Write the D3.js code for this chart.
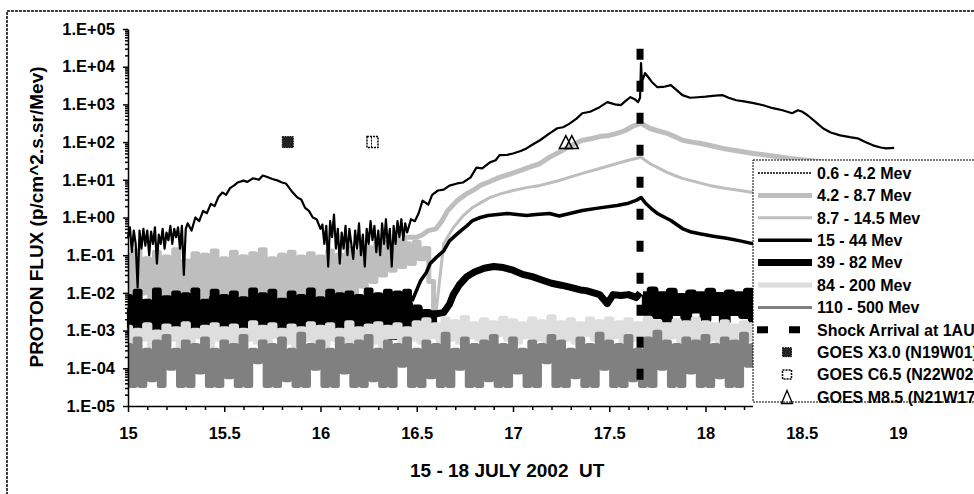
<!DOCTYPE html>
<html>
<head>
<meta charset="utf-8">
<script src="https://cdn.jsdelivr.net/npm/d3@7"></script>
<style>
  body { margin: 0; background: #fff; }
  text { font-family: "Liberation Sans", Arial, sans-serif; font-weight: bold; fill: #000; }
</style>
</head>
<body>
<svg id="chart" width="974" height="494"></svg>
<script>
// ---- data ----
var yTickValues = [1e-5, 1e-4, 1e-3, 1e-2, 1e-1, 1e0, 1e1, 1e2, 1e3, 1e4, 1e5];
var yTickLabels = ["1.E-05", "1.E-04", "1.E-03", "1.E-02", "1.E-01", "1.E+00", "1.E+01", "1.E+02", "1.E+03", "1.E+04", "1.E+05"];
var xTickValues = [15, 15.5, 16, 16.5, 17, 17.5, 18, 18.5, 19];
var xTickLabels = ["15", "15.5", "16", "16.5", "17", "17.5", "18", "18.5", "19"];

var seriesNames = ["0.6 - 4.2 Mev", "4.2 - 8.7 Mev", "8.7 - 14.5 Mev", "15 - 44 Mev", "39 - 82 Mev", "84 - 200 Mev", "110 - 500 Mev"];

// noisy stretches are sampled every 0.025 day (peak, dip, peak, dip ...)
var gridStep = 0.025;

var flux110_500 = [
  4e-4,3.5e-5,6e-4,3.5e-5,3e-4,5e-5,5e-4,3.5e-5,7e-4,1e-4,3e-4,3.5e-5,5e-4,3.5e-5,4e-4,8e-5,6e-4,3.5e-5,3e-4,3.5e-5,
  5e-4,6e-5,4e-4,3.5e-5,7e-4,3.5e-5,3e-4,1.5e-4,5e-4,3.5e-5,4e-4,3.5e-5,6e-4,5e-5,3e-4,3.5e-5,8e-4,3.5e-5,4e-4,1e-4,
  5e-4,3.5e-5,3e-4,3.5e-5,6e-4,8e-5,4e-4,3.5e-5,5e-4,3.5e-5,7e-4,5e-5,3e-4,3.5e-5,5e-4,3.5e-5,4e-4,1.2e-4,6e-4,3.5e-5,
  3e-4,3.5e-5,5e-4,6e-5,4e-4,3.5e-5,8e-4,3.5e-5,3e-4,1e-4,6e-4,3.5e-5,4e-4,3.5e-5,5e-4,5e-5,7e-4,3.5e-5,4e-4,3.5e-5,
  6e-4,8e-5,3e-4,3.5e-5,5e-4,3.5e-5,4e-4,1.5e-4,7e-4,3.5e-5,5e-4,3.5e-5,3e-4,6e-5,6e-4,3.5e-5,4e-4,3.5e-5,8e-4,1e-4,
  5e-4,3.5e-5,4e-4,3.5e-5,7e-4,5e-5,3e-4,3.5e-5,6e-4,3.5e-5,9e-4,1e-4,5e-4,3.5e-5,4e-4,3.5e-5,6e-4,8e-5,5e-4,3.5e-5,
  7e-4,3.5e-5,4e-4,6e-5,6e-4,3.5e-5,5e-4,3.5e-5,8e-4,1.2e-4,4e-4,3.5e-5,6e-4,3.5e-5,5e-4,5e-5,7e-4,3.5e-5,4e-4,3.5e-5,5e-4
];

var flux84_200 = [
  1.2e-3,5e-4,1e-3,6e-4,1.4e-3,4e-4,9e-4,5e-4,1.3e-3,6e-4,1.1e-3,4e-4,1.5e-3,5e-4,1e-3,7e-4,1.2e-3,4e-4,1.4e-3,6e-4,
  1.1e-3,5e-4,1.3e-3,4e-4,1e-3,6e-4,1.6e-3,5e-4,1.2e-3,4e-4,1.4e-3,7e-4,1e-3,5e-4,1.3e-3,4e-4,1.1e-3,6e-4,1.5e-3,5e-4,
  1.2e-3,4e-4,1.4e-3,6e-4,1e-3,5e-4,1.6e-3,4e-4,1.1e-3,6e-4,1.3e-3,5e-4,1.5e-3,4e-4,1.2e-3,7e-4,1.4e-3,5e-4,1.1e-3,6e-4,
  1.6e-3,5e-4,1.9e-3,7e-4,1.4e-3,5e-4,2e-3,6e-4,1.7e-3,5e-4,2.2e-3,7e-4,1.5e-3,6e-4,1.9e-3,5e-4,1.6e-3,8e-4,2.1e-3,6e-4,
  1.8e-3,5e-4,1.5e-3,7e-4,2e-3,6e-4,1.7e-3,5e-4,2.3e-3,7e-4,1.6e-3,6e-4,1.9e-3,5e-4,1.5e-3,8e-4,2e-3,6e-4,1.7e-3,5e-4,
  2e-3,7e-4,1.6e-3,5e-4,1.9e-3,6e-4,1.5e-3,7e-4,2.1e-3,5e-4,1.7e-3,6e-4,1.4e-3,7e-4,1.8e-3,5e-4,1.6e-3,6e-4,2e-3,5e-4,
  1.6e-3,6e-4,1.4e-3,5e-4,1.7e-3,7e-4,1.3e-3,5e-4,1.6e-3,6e-4,1.4e-3,5e-4,1.8e-3,6e-4,1.3e-3,7e-4,1.5e-3,5e-4,1.4e-3,6e-4,1.5e-3
];

var flux4_8Noise = [
  0.1,0.015,0.13,0.02,0.08,0.01,0.12,0.03,0.09,0.008,0.14,0.02,0.07,0.012,0.11,0.025,0.1,0.01,0.13,0.02,
  0.08,0.015,0.12,0.03,0.09,0.01,0.11,0.02,0.14,0.012,0.08,0.025,0.1,0.01,0.12,0.02,0.09,0.015,0.11,0.03,
  0.08,0.012,0.13,0.025,0.1,0.02,0.15,0.03,0.12,0.04,0.16,0.05,0.2,0.06,0.22,0.08,0.25,0.1,0.3
];
var flux4_8 = [
  [16.5,0.3],[16.53,0.35],[16.56,0.45],[16.6,0.5],[16.63,0.8],[16.66,1.5],[16.71,2.8],[16.76,4.3],[16.8,5.5],
  [16.83,7.1],[16.88,9],[16.93,11.6],[16.98,14],[17.04,17.8],[17.09,22],[17.14,27],[17.19,40],[17.24,54],[17.3,80],
  [17.36,112],[17.41,125],[17.45,140],[17.5,150],[17.54,171],[17.58,200],[17.62,260],[17.665,316],[17.71,233],[17.75,200],
  [17.8,171],[17.84,140],[17.88,112],[17.93,100],[17.97,93],[18.03,80],[18.09,68],[18.17,58],[18.25,50],[18.35,43],
  [18.44,37],[18.6,30],[18.8,22],[19.0,18]
];

var flux8_14Noise = [
  0.06,0.006,0.08,0.01,0.05,0.005,0.09,0.008,0.06,0.004,0.07,0.01,0.05,0.006,0.08,0.005,0.1,0.008,0.06,0.005,
  0.07,0.01,0.05,0.004,0.09,0.006,0.06,0.01,0.08,0.005,0.07,0.008,0.1,0.006,0.05,0.01,0.08,0.005,0.06,0.008,
  0.09,0.006,0.07,0.01,0.1,0.008,0.12,0.01,0.1,0.015,0.14,0.02,0.12,0.03,0.16,0.04,0.18,0.05,0.2,0.06,
  0.22,0.08,0.15,0.02,0.003
];
var flux8_14 = [
  [16.64,0.2],[16.69,0.54],[16.74,1.1],[16.79,1.85],[16.84,2.6],[16.88,3.4],[16.94,4.3],[17.0,5.2],[17.07,6.2],[17.14,7.1],
  [17.19,8.2],[17.24,9.6],[17.3,12],[17.36,14.8],[17.45,20],[17.54,27],[17.6,33],[17.665,39.5],[17.71,27],[17.76,20],
  [17.8,15.7],[17.84,13],[17.88,10.9],[17.95,8.8],[18.02,7.1],[18.1,6],[18.18,5.2],[18.25,4.6],[18.4,3.8],[18.6,3],
  [18.8,2.4],[19.0,2]
];

var flux15_44Noise = [
  0.008,0.002,0.011,0.003,0.006,0.0015,0.012,0.0025,0.007,0.002,0.01,0.003,0.009,0.0018,0.012,0.0025,0.006,0.002,0.011,0.003,
  0.008,0.0015,0.01,0.0025,0.007,0.002,0.012,0.003,0.009,0.0018,0.011,0.0025,0.006,0.002,0.01,0.003,0.008,0.0015,0.012,0.0025,
  0.007,0.002,0.011,0.003,0.009,0.002,0.01,0.0025,0.008,0.003,0.012,0.002,0.009,0.003,0.011,0.0035,0.01,0.004,0.011,0.006
];
var flux15_44 = [
  [16.5,0.012],[16.52,0.021],[16.55,0.035],[16.57,0.06],[16.6,0.086],[16.64,0.13],[16.67,0.24],[16.7,0.33],[16.73,0.45],[16.76,0.6],
  [16.79,0.83],[16.83,1.0],[16.87,1.13],[16.92,1.2],[16.97,1.28],[17.02,1.2],[17.07,1.13],[17.12,1.2],[17.19,1.28],[17.24,1.1],
  [17.3,1.3],[17.36,1.53],[17.45,1.8],[17.54,2.08],[17.6,2.4],[17.64,2.83],[17.665,3.4],[17.69,2.35],[17.72,1.7],[17.75,1.28],
  [17.79,1.0],[17.82,0.83],[17.85,0.65],[17.88,0.51],[17.92,0.42],[17.97,0.37],[18.04,0.32],[18.11,0.28],[18.18,0.24],[18.25,0.2],
  [18.4,0.17],[18.6,0.13],[18.8,0.1],[19.0,0.09]
];

var flux39_82Noise = [
  0.004,0.0009,0.006,0.0012,0.003,0.0008,0.005,0.001,0.007,0.0009,0.004,0.0011,0.006,0.0008,0.003,0.001,0.005,0.0007,0.007,0.0011,
  0.004,0.0009,0.006,0.0012,0.003,0.0008,0.005,0.001,0.007,0.0009,0.004,0.0008,0.006,0.0012,0.003,0.001,0.005,0.0007,0.004,0.0009,
  0.006,0.0011,0.003,0.0008,0.005,0.001,0.007,0.0009,0.004,0.0012,0.006,0.0008,0.004,0.001,0.005,0.0007,0.003,0.0009,0.005,0.0011,
  0.004,0.0012,0.003,0.0015,0.0028
];
var flux39_82 = [
  [16.64,0.003],[16.67,0.005],[16.69,0.009],[16.72,0.016],[16.76,0.027],[16.8,0.036],[16.85,0.045],[16.9,0.05],[16.95,0.047],[17.0,0.04],
  [17.05,0.031],[17.1,0.027],[17.15,0.022],[17.2,0.018],[17.25,0.016],[17.3,0.014],[17.35,0.012],[17.38,0.0115],[17.42,0.01],[17.45,0.009],
  [17.49,0.0052],[17.52,0.009],[17.56,0.0085],[17.6,0.009],[17.64,0.0075],[17.66,0.01]
];
var flux39_82Tail = [  // after the shock, from day 17.675
  0.009,0.003,0.012,0.0025,0.009,0.002,0.011,0.003,0.008,0.0022,0.01,0.0035,0.009,0.002,0.011,0.003,0.0085,0.0018,0.01,0.003,
  0.009,0.0025,0.011,0.002,0.008,0.003,0.01,0.0022,0.009,0.003,0.0085,0.0025,0.009,0.004
];

var flux06_42 = [
  [15.00,0.3],[15.01,0.55],[15.02,0.12],[15.03,0.45],[15.04,0.2],[15.05,0.014],[15.06,0.45],[15.07,0.15],[15.08,0.5],[15.09,0.18],
  [15.10,0.45],[15.11,0.1],[15.12,0.42],[15.13,0.2],[15.14,0.55],[15.15,0.06],[15.16,0.35],[15.17,0.2],[15.18,0.5],[15.19,0.15],
  [15.20,0.4],[15.21,0.25],[15.22,0.6],[15.23,0.2],[15.24,0.5],[15.25,0.3],[15.26,0.55],[15.27,0.15],[15.28,0.6],[15.29,0.03],
  [15.30,0.5],[15.31,0.7],[15.33,0.45],[15.35,1.0],[15.37,0.8],[15.39,1.5],[15.41,1.3],[15.43,2.3],[15.45,2.0],[15.47,3.5],
  [15.49,4.6],[15.51,4.0],[15.53,6.0],[15.55,7.0],[15.57,8.5],[15.60,9.5],[15.62,8.8],[15.65,11],[15.68,10],[15.70,13],
  [15.72,12],[15.75,10.5],[15.78,9.5],[15.80,8.5],[15.82,8],[15.85,5],[15.88,3.4],[15.90,3.0],[15.92,1.8],[15.94,1.5],
  [15.96,1.0],[15.98,0.9],[16.00,0.5],[16.01,0.65],
  [16.02,0.2],[16.03,0.6],[16.04,0.05],[16.05,0.8],[16.06,0.3],[16.07,1.2],[16.08,0.15],[16.09,0.5],[16.10,0.06],[16.11,0.4],
  [16.12,0.15],[16.13,0.6],[16.14,0.1],[16.15,0.5],[16.16,0.2],[16.17,0.08],[16.18,0.45],[16.19,0.15],[16.20,0.7],[16.21,0.1],
  [16.22,0.35],[16.23,0.05],[16.24,0.5],[16.25,0.2],[16.26,0.8],[16.27,0.25],[16.28,0.6],[16.29,0.12],[16.30,0.45],[16.31,0.1],
  [16.32,0.7],[16.33,0.2],[16.34,0.9],[16.35,0.15],[16.36,0.5],[16.37,0.05],[16.38,0.6],[16.39,0.2],[16.40,0.8],[16.41,0.3],
  [16.42,0.9],[16.43,0.25],[16.44,0.7],[16.45,0.4],[16.47,0.9],[16.49,0.8],
  [16.51,1.3],[16.53,2.8],[16.56,2.2],[16.58,4.0],[16.61,5.2],[16.64,5.5],[16.67,7],[16.71,8],[16.74,8.5],[16.78,11.6],
  [16.81,21],[16.84,20],[16.88,29],[16.91,33],[16.93,45],[16.97,46],[17.00,50],[17.04,58],[17.07,68],[17.10,85],
  [17.14,112],[17.19,171],[17.23,233],[17.26,248],[17.29,300],[17.33,420],[17.36,584],[17.40,640],[17.45,843],[17.49,1146],
  [17.53,1000],[17.56,953],[17.59,1300],[17.61,1550],[17.63,1400],[17.65,1146],[17.66,1500],[17.665,12500],[17.67,4000],[17.686,6760],
  [17.70,5500],[17.72,4000],[17.75,2860],[17.78,2900],[17.82,3240],[17.85,2400],[17.88,1760],[17.92,1500],[17.96,1550],[18.00,1600],
  [18.05,1700],[18.09,1760],[18.12,1500],[18.16,1290],[18.20,1200],[18.25,1076],[18.30,950],[18.35,793],[18.40,700],[18.45,584],
  [18.48,701],[18.50,650],[18.53,516],[18.57,350],[18.61,233],[18.65,180],[18.70,151],[18.75,135],[18.79,126],[18.83,100],
  [18.87,82],[18.91,72],[18.94,68],[18.98,70]
];

// shock arrival and flares
var shockDay = 17.66;
var shockRange = [3e-5, 3e4];
var shockName = "Shock Arrival at 1AU";
var flareNames = ["GOES X3.0 (N19W01)", "GOES C6.5 (N22W02)", "GOES M8.5 (N21W17)"];
var flareDays = [15.83, 16.27, 17.29];
var flareFlux = [100, 100, 100];

// ---- build ----
function noisePart(start, vals, w) {
  return { curve: d3.curveStep, width: w, pts: vals.map(function (v, i) { return [start + i * gridStep, v]; }) };
}
function linePart(pts, prev) {
  // join onto the end of the previous noisy stretch
  var p = prev ? [prev.pts[prev.pts.length - 1]].concat(pts) : pts;
  return { curve: d3.curveLinear, pts: p };
}
function noisyThenSmooth(noise, smooth, w) {
  var a = noisePart(15, noise, w);
  return [a, linePart(smooth, a)];
}

var series = [
  { color: "#000", width: 2.2, legendWidth: 1.5, legendDash: "2,1", parts: [linePart(flux06_42)] },
  { color: "#bebebe", width: 5, parts: noisyThenSmooth(flux4_8Noise, flux4_8, 5) },
  { color: "#bebebe", width: 3, parts: noisyThenSmooth(flux8_14Noise, flux8_14, 5) },
  { color: "#000", width: 3.5, parts: noisyThenSmooth(flux15_44Noise, flux15_44, 5) },
  { color: "#000", width: 7, parts: noisyThenSmooth(flux39_82Noise, flux39_82, 7).concat([noisePart(17.675, flux39_82Tail, 7)]) },
  { color: "#dedede", width: 5, parts: [noisePart(15, flux84_200, 5.5)] },
  { color: "#808080", width: 3, parts: [noisePart(15, flux110_500, 5)] }
];
series.forEach(function (s, i) { s.name = seriesNames[i]; });

var svg = d3.select("#chart");

var x = d3.scaleLinear().domain([15, 19]).range([128, 898]);
var y = d3.scaleLog().domain([1e-5, 1e5]).range([406, 29]);

// outer frame
svg.append("rect")
  .attr("x", 7).attr("y", 11).attr("width", 1000).attr("height", 500)
  .attr("fill", "none").attr("stroke", "#000").attr("stroke-width", 1.5)
  .attr("stroke-dasharray", "3,1");

// lines (Excel order, first series drawn last so its trace stays visible)
var drawOrder = [1, 2, 3, 4, 5, 6, 0];
var gLines = svg.append("g");
drawOrder.forEach(function (i) {
  var s = series[i];
  s.parts.forEach(function (p) {
    var line = d3.line().curve(p.curve)
      .x(function (d) { return x(d[0]); })
      .y(function (d) { return y(d[1]); });
    gLines.append("path")
      .attr("d", line(p.pts))
      .attr("fill", "none")
      .attr("stroke", s.color)
      .attr("stroke-width", p.width || s.width)
      .attr("stroke-linejoin", "round");
  });
});

// shock line
svg.append("line")
  .attr("x1", x(shockDay)).attr("x2", x(shockDay))
  .attr("y1", y(shockRange[1])).attr("y2", y(shockRange[0]))
  .attr("stroke", "#000").attr("stroke-width", 7).attr("stroke-dasharray", "11,21");

// flare markers
function triPath(cx, cy, w, h) {
  return "M" + (cx - w / 2) + "," + (cy + h / 2) + "L" + cx + "," + (cy - h / 2) + "L" + (cx + w / 2) + "," + (cy + h / 2) + "Z";
}
function drawFlare(g, k, cx, cy, big) {
  var sz = big ? 11 : 9;
  if (k === 0) {
    g.append("rect").attr("x", cx - sz / 2).attr("y", cy - sz / 2).attr("width", sz).attr("height", sz)
      .attr("fill", "#222").attr("stroke", "#000").attr("stroke-width", 1).attr("stroke-dasharray", "1.5,1");
  } else if (k === 1) {
    g.append("rect").attr("x", cx - sz / 2).attr("y", cy - sz / 2).attr("width", sz).attr("height", sz)
      .attr("fill", "#fff").attr("stroke", "#000").attr("stroke-width", 1.5).attr("stroke-dasharray", "2,1");
    if (big) g.append("line").attr("x1", cx - 1).attr("x2", cx - 1).attr("y1", cy - sz / 2).attr("y2", cy + sz / 2)
      .attr("stroke", "#000").attr("stroke-width", 1).attr("stroke-dasharray", "2,1");
  } else {
    if (big) {
      g.append("path").attr("d", triPath(cx - 3, cy, 13, 13)).attr("fill", "none").attr("stroke", "#000").attr("stroke-width", 1.5);
      g.append("path").attr("d", triPath(cx + 3, cy, 13, 13)).attr("fill", "none").attr("stroke", "#000").attr("stroke-width", 1.5);
    } else {
      g.append("path").attr("d", triPath(cx, cy, 11, 13)).attr("fill", "none").attr("stroke", "#000").attr("stroke-width", 1.3);
    }
  }
}
var gFlares = svg.append("g");
flareDays.forEach(function (d, k) { drawFlare(gFlares, k, x(d), y(flareFlux[k]), true); });

// y axis
var yMinor = [];
for (var e = -5; e < 5; e++) for (var m = 2; m <= 9; m++) yMinor.push(m * Math.pow(10, e));

var gy = svg.append("g").attr("transform", "translate(128,0)")
  .call(d3.axisLeft(y).tickValues(yTickValues)
    .tickFormat(function (d, i) { return yTickLabels[i]; })
    .tickSize(5).tickSizeOuter(0).tickPadding(8));
svg.append("g").attr("transform", "translate(128,0)")
  .call(d3.axisLeft(y).tickValues(yMinor).tickFormat("").tickSize(3).tickSizeOuter(0))
  .select(".domain").remove();

// x axis
var xMinor = d3.range(150, 191).map(function (v) { return v / 10; })
  .filter(function (v) { return Math.abs(v * 2 - Math.round(v * 2)) > 1e-6; });
var gx = svg.append("g").attr("transform", "translate(0,406)")
  .call(d3.axisBottom(x).tickValues(xTickValues)
    .tickFormat(function (d, i) { return xTickLabels[i]; })
    .tickSize(6).tickSizeOuter(0).tickPadding(15));
svg.append("g").attr("transform", "translate(0,406)")
  .call(d3.axisBottom(x).tickValues(xMinor).tickFormat("").tickSize(4).tickSizeOuter(0))
  .select(".domain").remove();

svg.selectAll(".tick line, .domain").attr("stroke", "#000").attr("stroke-width", 1.5);
gy.selectAll("text").attr("font-size", 16.5).attr("font-family", "Liberation Sans, Arial, sans-serif").attr("font-weight", "bold");
gx.selectAll("text").attr("font-size", 16.5).attr("font-family", "Liberation Sans, Arial, sans-serif").attr("font-weight", "bold");

// axis titles
svg.append("text")
  .attr("transform", "translate(43,217) rotate(-90)")
  .attr("text-anchor", "middle")
  .attr("font-size", 19)
  .text("PROTON FLUX (p/cm^2.s.sr/Mev)");
svg.append("text")
  .attr("x", 410).attr("y", 477)
  .attr("font-size", 19)
  .style("white-space", "pre")
  .text("15 - 18 JULY 2002  UT");

// legend (box runs off the right edge, as in the original)
var legX = 753, legY = 160, rowY0 = 173, rowH = 22.4;
svg.append("rect").attr("x", legX).attr("y", legY).attr("width", 240).attr("height", 256).attr("fill", "#fff");
svg.append("rect").attr("x", legX).attr("y", legY).attr("width", 240).attr("height", 242)
  .attr("fill", "none").attr("stroke", "#000").attr("stroke-width", 1).attr("stroke-dasharray", "2,1");

var gLeg = svg.append("g");
series.forEach(function (s, i) {
  var ry = rowY0 + i * rowH;
  gLeg.append("line").attr("x1", 758).attr("x2", 812).attr("y1", ry).attr("y2", ry)
    .attr("stroke", s.color).attr("stroke-width", s.legendWidth || s.width)
    .attr("stroke-dasharray", s.legendDash || null);
  gLeg.append("text").attr("x", 817).attr("y", ry).attr("dy", "0.36em").attr("font-size", 16).text(s.name);
});
var shockRow = rowY0 + 7 * rowH;
gLeg.append("line").attr("x1", 757).attr("x2", 812).attr("y1", shockRow).attr("y2", shockRow)
  .attr("stroke", "#000").attr("stroke-width", 7).attr("stroke-dasharray", "11,21");
gLeg.append("text").attr("x", 817).attr("y", shockRow).attr("dy", "0.36em").attr("font-size", 16).text(shockName);
flareNames.forEach(function (n, k) {
  var ry = rowY0 + (8 + k) * rowH;
  drawFlare(gLeg, k, 787, ry, false);
  gLeg.append("text").attr("x", 817).attr("y", ry).attr("dy", "0.36em").attr("font-size", 16).text(n);
});
</script>
</body>
</html>
